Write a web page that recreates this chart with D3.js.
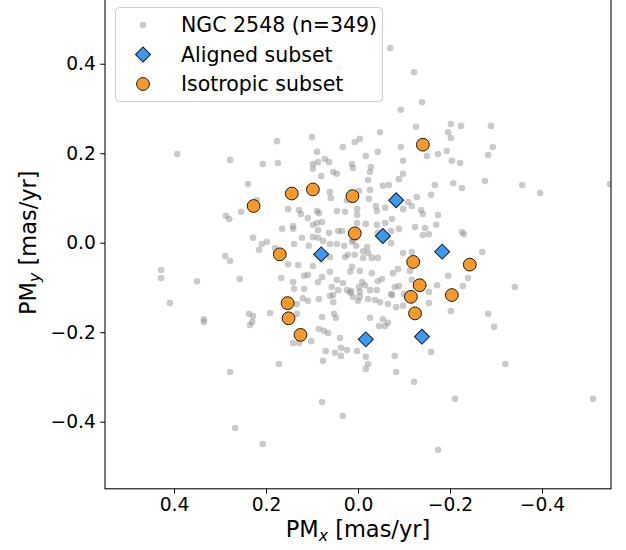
<!DOCTYPE html>
<html>
<head>
<meta charset="utf-8">
<script src="https://cdn.jsdelivr.net/npm/d3@7"></script>
<style>
  body { margin: 0; background: #fff; }
  svg { display: block; }
  text { font-family: "DejaVu Sans", sans-serif; }
</style>
</head>
<body>
<svg id="chart" width="626" height="550"></svg>
<script>
// Proper motions relative to the cluster mean, [PMx, PMy] in mas/yr
const clusterPM = [
  [-0.070,0.435],[-0.122,0.381],[-0.139,0.314],[-0.093,0.297],[0.041,0.390],[0.207,0.473],
  [-0.048,0.247],[-0.126,0.259],[-0.202,0.265],[-0.224,0.261],[-0.289,0.261],[-0.196,0.247],
  [-0.202,0.234],[0.007,0.225],[-0.004,0.232],[-0.093,0.214],[-0.193,0.205],[-0.293,0.214],
  [-0.017,0.194],[-0.043,0.203],[-0.150,0.194],[-0.174,0.198],[-0.283,0.196],[-0.204,0.183],
  [-0.222,0.178],[-0.098,0.183],[0.013,0.176],[0.011,0.167],[-0.028,0.169],[-0.026,0.158],
  [-0.098,0.154],[-0.089,0.142],[-0.022,0.140],[-0.276,0.138],[-0.357,0.129],[-0.396,0.111],
  [-0.548,0.131],[-0.207,0.133],[-0.226,0.122],[-0.167,0.129],[-0.159,0.107],[-0.128,0.102],
  [-0.054,0.127],[-0.067,0.129],[-0.026,0.118],[-0.002,0.116],[-0.024,0.098],[-0.109,0.091],
  [-0.117,0.082],[-0.039,0.082],[-0.059,0.078],[-0.041,0.071],[-0.098,0.075],[-0.137,0.073],
  [-0.141,0.064],[-0.174,0.062],[0.002,0.062],[-0.017,0.042],[-0.041,0.040],[-0.059,0.044],
  [-0.074,0.053],[-0.089,0.031],[-0.124,0.035],[-0.146,0.033],[-0.170,0.040],[-0.141,0.017],
  [-0.154,0.019],[-0.226,0.024],[-0.230,0.019],[-0.043,0.022],[0.002,0.044],[-0.072,0.026],
  [-0.061,0.013],[-0.072,-0.001],[0.013,0.002],[0.004,0.011],[-0.020,-0.010],[-0.011,-0.019],
  [-0.022,-0.023],[0.007,-0.027],[-0.011,-0.034],[-0.030,-0.034],[-0.043,-0.034],[-0.098,-0.023],
  [-0.117,-0.021],[-0.270,-0.021],[-0.087,-0.059],[-0.076,-0.068],[-0.030,-0.068],[-0.004,-0.063],
  [0.013,-0.054],[-0.113,-0.063],[-0.196,-0.074],[-0.239,-0.079],[-0.052,-0.081],[-0.043,-0.086],
  [-0.009,-0.088],[-0.015,-0.095],[-0.080,-0.099],[-0.089,-0.097],[-0.117,-0.083],[-0.172,-0.095],
  [-0.228,-0.097],[-0.341,-0.099],[0.015,-0.108],[-0.004,-0.110],[-0.026,-0.106],[-0.041,-0.106],
  [-0.072,-0.115],[-0.074,-0.117],[-0.154,-0.110],[-0.100,-0.115],[0.011,-0.121],[-0.004,-0.121],
  [-0.022,-0.126],[-0.037,-0.128],[-0.048,-0.133],[0.000,-0.130],[-0.065,-0.137],[-0.083,-0.144],
  [-0.098,-0.141],[-0.154,-0.135],[-0.202,-0.153],[-0.283,-0.159],[-0.296,-0.188],[-0.026,-0.168],
  [-0.054,-0.171],[-0.046,-0.186],[-0.059,-0.186],[-0.065,-0.179],[0.002,-0.242],[-0.017,-0.255],
  [-0.022,-0.271],[-0.017,-0.282],[-0.080,-0.253],[-0.083,-0.289],[-0.159,-0.244],[-0.320,-0.271],
  [-0.122,-0.311],[-0.211,-0.349],[-0.174,-0.463],[-0.511,-0.349],[0.393,0.198],[0.278,0.185],
  [0.176,0.227],[0.100,0.236],[0.089,0.203],[0.207,0.176],[0.174,0.178],[0.098,0.176],
  [0.098,0.165],[0.087,0.180],[0.072,0.187],[0.063,0.180],[0.080,0.149],[0.054,0.158],
  [0.046,0.154],[0.033,0.214],[0.239,0.131],[0.220,0.095],[0.287,0.060],[0.280,0.053],
  [0.254,0.069],[0.152,0.075],[0.128,0.073],[0.124,0.064],[0.109,0.055],[0.089,0.071],
  [0.085,0.066],[0.061,0.113],[0.059,0.100],[0.046,0.071],[0.028,0.069],[0.024,0.095],
  [0.002,0.075],[0.165,0.031],[0.141,0.037],[0.141,0.031],[0.122,0.011],[0.098,0.040],
  [0.089,0.044],[0.078,0.046],[0.087,0.028],[0.063,0.022],[0.043,0.026],[0.035,0.026],
  [0.228,0.011],[0.198,0.002],[0.209,-0.003],[0.215,-0.016],[0.180,-0.012],[0.139,-0.003],
  [0.107,-0.007],[0.098,0.013],[0.087,0.011],[0.076,0.004],[0.061,-0.003],[0.046,-0.003],
  [0.030,-0.007],[0.011,0.006],[0.004,-0.007],[0.289,-0.030],[0.278,-0.041],[0.152,-0.048],
  [0.130,-0.050],[0.098,-0.052],[0.109,-0.072],[0.117,-0.074],[0.087,-0.088],[0.078,-0.077],
  [0.061,-0.065],[0.046,-0.083],[0.033,-0.090],[0.017,-0.065],[0.022,-0.027],[0.028,-0.032],
  [0.061,-0.032],[0.428,-0.061],[0.428,-0.079],[0.350,-0.086],[0.257,-0.081],[0.167,-0.079],
  [0.141,-0.088],[0.139,-0.103],[0.117,-0.103],[0.057,-0.099],[0.054,-0.117],[0.017,-0.112],
  [-0.002,-0.099],[0.409,-0.135],[0.335,-0.171],[0.335,-0.177],[0.237,-0.159],[0.228,-0.164],
  [0.230,-0.177],[0.235,-0.184],[0.191,-0.157],[0.133,-0.137],[0.120,-0.124],[0.109,-0.130],
  [0.085,-0.126],[0.061,-0.119],[0.054,-0.133],[0.141,-0.224],[0.128,-0.224],[0.102,-0.220],
  [0.085,-0.193],[0.074,-0.197],[0.065,-0.202],[0.078,-0.166],[0.052,-0.159],[0.048,-0.168],
  [0.039,-0.213],[0.070,-0.242],[0.076,-0.264],[0.050,-0.246],[0.037,-0.235],[0.037,-0.253],
  [0.172,-0.271],[0.278,-0.289],[0.078,-0.356],[0.033,-0.387],[0.267,-0.414],[0.207,-0.450],
  [0.043,-0.106],[0.024,-0.106],[0.133,-0.159],[0.024,-0.240]
];

const alignedPM = [
  [-0.083,0.095],[-0.054,0.015],[-0.183,-0.020],[0.080,-0.026],[-0.017,-0.216],[-0.139,-0.210]
];

const isotropicPM = [
  [-0.141,0.219],[0.227,0.082],[0.144,0.110],[0.098,0.119],[0.012,0.104],[0.007,0.021],
  [0.170,-0.026],[-0.120,-0.043],[-0.243,-0.049],[-0.134,-0.095],[-0.115,-0.121],[-0.204,-0.117],
  [-0.124,-0.158],[0.153,-0.135],[0.151,-0.169],[0.125,-0.206]
];

const xTicks = [0.4, 0.2, 0.0, -0.2, -0.4];
const yTicks = [0.4, 0.2, 0.0, -0.2, -0.4];
const legendLabels = ["NGC 2548 (n=349)", "Aligned subset", "Isotropic subset"];

const svg = d3.select("#chart");
const plot = { left: 105, right: 611, top: -3.4, bottom: 488.8 };

// PMx increases to the left (RA convention)
const x = d3.scaleLinear().domain([0.55, -0.55]).range([plot.left, plot.right]);
const y = d3.scaleLinear().domain([-0.55, 0.55]).range([plot.bottom, plot.top]);

const fmt = d3.format(".1f");
const tickFont = "18.67px";

svg.append("defs").append("clipPath").attr("id", "plot-clip")
  .append("rect")
  .attr("x", plot.left).attr("y", plot.top)
  .attr("width", plot.right - plot.left).attr("height", plot.bottom - plot.top);

const marks = svg.append("g").attr("clip-path", "url(#plot-clip)");

// background cluster members
marks.append("g").selectAll("circle").data(clusterPM).join("circle")
  .attr("cx", d => x(d[0])).attr("cy", d => y(d[1]))
  .attr("r", 3.3)
  .attr("fill", "#808080").attr("fill-opacity", 0.42);

const diamond = d3.symbol().type(d3.symbolSquare).size(112);
const blue = "#3a9af2", orange = "#f8992a", edge = "#1a1a1a";

marks.append("g").selectAll("path").data(alignedPM).join("path")
  .attr("d", diamond)
  .attr("transform", d => `translate(${x(d[0])},${y(d[1])}) rotate(45)`)
  .attr("fill", blue).attr("stroke", edge).attr("stroke-width", 1);

marks.append("g").selectAll("circle").data(isotropicPM).join("circle")
  .attr("cx", d => x(d[0])).attr("cy", d => y(d[1]))
  .attr("r", 6.4)
  .attr("fill", orange).attr("stroke", edge).attr("stroke-width", 1);

// axes
const xAxis = svg.append("g").attr("transform", `translate(0,${plot.bottom})`)
  .call(d3.axisBottom(x).tickValues(xTicks).tickFormat(fmt).tickSize(4.7).tickPadding(4.5));
const yAxis = svg.append("g").attr("transform", `translate(${plot.left},0)`)
  .call(d3.axisLeft(y).tickValues(yTicks).tickFormat(fmt).tickSize(4.7).tickPadding(4.5));
[xAxis, yAxis].forEach(g => {
  g.select(".domain").remove();
  g.selectAll(".tick line").attr("stroke", "#000").attr("stroke-width", 1.05);
  g.selectAll(".tick text").attr("fill", "#000").style("font-size", tickFont)
    .style("font-family", "'DejaVu Sans', sans-serif");
});

svg.append("rect")
  .attr("x", plot.left).attr("y", plot.top)
  .attr("width", plot.right - plot.left).attr("height", plot.bottom - plot.top)
  .attr("fill", "none").attr("stroke", "#000").attr("stroke-width", 1.05);

// axis labels
const labelFont = "22.5px";
const subFont = "15.75px";
const xl = svg.append("text")
  .attr("x", (plot.left + plot.right) / 2).attr("y", 537)
  .attr("text-anchor", "middle").style("font-size", labelFont).attr("fill", "#000");
xl.append("tspan").text("PM");
xl.append("tspan").text("x").attr("dy", 4).style("font-size", subFont).style("font-style", "italic");
xl.append("tspan").text(" [mas/yr]").attr("dy", -4);

const yl = svg.append("text")
  .attr("transform", `translate(36,${(plot.top + plot.bottom) / 2}) rotate(-90)`)
  .attr("text-anchor", "middle").style("font-size", labelFont).attr("fill", "#000");
yl.append("tspan").text("PM");
yl.append("tspan").text("y").attr("dy", 4).style("font-size", subFont).style("font-style", "italic");
yl.append("tspan").text(" [mas/yr]").attr("dy", -4);

// legend
const legend = svg.append("g");
legend.append("rect")
  .attr("x", 115.5).attr("y", 7.5).attr("width", 267).attr("height", 94)
  .attr("rx", 4).attr("fill", "#fff").attr("fill-opacity", 0.8)
  .attr("stroke", "#cccccc").attr("stroke-width", 1);

const rows = legend.selectAll("g.row").data(legendLabels).join("g")
  .attr("class", "row")
  .attr("transform", (d, i) => `translate(143,${25 + i * 29.5})`);

rows.filter((d, i) => i === 0).append("circle")
  .attr("r", 3.3).attr("fill", "#808080").attr("fill-opacity", 0.42);
rows.filter((d, i) => i === 1).append("path")
  .attr("d", diamond).attr("transform", "rotate(45)")
  .attr("fill", blue).attr("stroke", edge).attr("stroke-width", 1);
rows.filter((d, i) => i === 2).append("circle")
  .attr("r", 6.4).attr("fill", orange).attr("stroke", edge).attr("stroke-width", 1);

rows.append("text")
  .attr("x", 38).attr("dy", "0.35em")
  .style("font-size", "20.5px").attr("fill", "#000")
  .text(d => d);
</script>
</body>
</html>
